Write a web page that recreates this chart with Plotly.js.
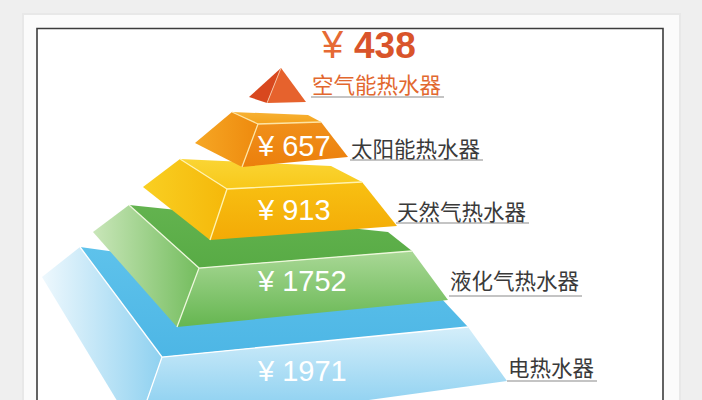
<!DOCTYPE html>
<html><head><meta charset="utf-8">
<script src="https://cdn.plot.ly/plotly-3.0.1.min.js"></script>
<style>html,body{margin:0;padding:0;background:#efefef;}#chart{width:702px;height:400px;}</style>
</head><body><div id="chart"></div>
<script>
// ---------- data ----------
const heaterTypes = ['空气能热水器', '太阳能热水器', '天然气热水器', '液化气热水器', '电热水器'];
const prices = [438, 657, 913, 1752, 1971];
const currencySign = '¥';

// ---------- layout geometry (illustration, pixel space) ----------
const apexGeom = {top: [281, 68], left: [249, 97], mid: [267, 103], right: [306, 102]};
const layerGeom = [
  null,
  {TBL: [232, 112], TBR: [308, 115], TFR: [321, 122], TFL: [258, 124], QBL: [195, 143], QFL: [242, 167], QFR: [348, 157]},
  {TBL: [180, 159], TBR: [331, 166], TFR: [362, 182], TFL: [227, 189], QBL: [143, 187], QFL: [210, 240], QFR: [397, 226]},
  {TBL: [129, 205], TBR: [388, 232], TFR: [412, 251], TFL: [199, 268], QBL: [93, 232], QFL: [177, 327], QFR: [448, 300]},
  {TBL: [80, 247], TBR: [440, 297], TFR: [468, 327], TFL: [162, 357], QBL: [42, 277], QFL: [136, 432], QFR: [507, 381]}
];
const layerStyle = [
  {left: '#d8481e', front: '#e6622d', edge: '#f6c0a0'},
  {top: ['#f7b234', '#f4a21c'], left: ['#f6a724', '#ee8a0e'], front: ['#f0901a', '#ec7f0c'], edge: '#fde4a4'},
  {top: ['#fad534', '#f8c81a'], left: ['#f9cf22', '#f5b80a'], front: ['#f8c012', '#f3aa06'], edge: '#fff3b0'},
  {top: ['#63b34f', '#58ab45'], left: ['#c9e6b9', '#74bd5e'], front: ['#a9d896', '#65b650'], edge: '#eef8dc'},
  {top: ['#5ec2eb', '#4db6e5'], left: ['#eef8fd', '#8fd1f0'], front: ['#d4eefa', '#79c8ee'], edge: '#ffffff'}
];
const nameX = [312, 351, 397, 450, 508];
const nameY = [83, 147, 210, 279, 366];
const underlineY = [97, 160, 223, 296, 381];
const nameFontSize = 21.5;
const valueX = 257;
const valueY = [null, 146, 210, 281, 371];

// ---------- build traces ----------
const traces = [];
function face(pts, colors, dir) {
  const xs = pts.map(p => p[0]), ys = pts.map(p => p[1]);
  const t = {x: xs, y: ys, mode: 'lines', fill: 'toself', line: {width: 0}, hoverinfo: 'skip', showlegend: false};
  if (Array.isArray(colors)) {
    const arr = dir === 'h' ? xs : ys;
    t.fillgradient = {type: dir === 'h' ? 'horizontal' : 'vertical',
      colorscale: [[0, colors[0]], [1, colors[1]]],
      start: Math.min(...arr), stop: Math.max(...arr)};
  } else {
    t.fillcolor = colors;
  }
  return t;
}
function edge(pts, color, w) {
  return {x: pts.map(p => p ? p[0] : null), y: pts.map(p => p ? p[1] : null), mode: 'lines',
    line: {color: color, width: w || 1.2}, hoverinfo: 'skip', showlegend: false, connectgaps: false};
}
for (let i = layerGeom.length - 1; i >= 1; i--) {
  const g = layerGeom[i], s = layerStyle[i];
  traces.push(face([g.TBL, g.TBR, g.TFR, g.TFL], s.top, 'v'));
  traces.push(face([g.TBL, g.TFL, g.QFL, g.QBL], s.left, 'h'));
  traces.push(face([g.TFL, g.TFR, g.QFR, g.QFL], s.front, 'v'));
  traces.push(edge([g.QFL, g.TFL, g.TFR, null, g.TBL, g.TFL], s.edge, 1.3));
}
traces.push(face([apexGeom.top, apexGeom.left, apexGeom.mid], layerStyle[0].left));
traces.push(face([apexGeom.top, apexGeom.mid, apexGeom.right], layerStyle[0].front));
traces.push(edge([apexGeom.top, apexGeom.mid], layerStyle[0].edge, 1));

// ---------- annotations ----------
const annotations = [];
heaterTypes.forEach((name, i) => {
  annotations.push({x: nameX[i], y: nameY[i], xref: 'x', yref: 'y', text: name, showarrow: false,
    xanchor: 'left', yanchor: 'middle', borderpad: 0, borderwidth: 0,
    font: {family: 'Noto Sans CJK SC, sans-serif', size: nameFontSize, color: i === 0 ? '#e2682f' : '#3a3a3a'}});
});
prices.forEach((p, i) => {
  if (i === 0) return;
  annotations.push({x: valueX, y: valueY[i], xref: 'x', yref: 'y', text: currencySign + ' ' + p, showarrow: false,
    xanchor: 'left', yanchor: 'middle', borderpad: 0, borderwidth: 0,
    font: {family: 'Liberation Sans, Arial, sans-serif', size: 29, color: '#ffffff'}});
});
// top price (apex)
annotations.push({x: 321, y: 45, xref: 'x', yref: 'y', text: currencySign, showarrow: false,
  xanchor: 'left', yanchor: 'middle', borderpad: 0, borderwidth: 0,
  font: {family: 'Liberation Sans, Arial, sans-serif', size: 38, color: '#e66a34'}});
annotations.push({x: 354, y: 45, xref: 'x', yref: 'y', text: '<b>' + prices[0] + '</b>', showarrow: false,
  xanchor: 'left', yanchor: 'middle', borderpad: 0, borderwidth: 0,
  font: {family: 'Liberation Sans, Arial, sans-serif', size: 37, color: '#d9542a'}});

// ---------- shapes ----------
const shapes = [
  {type: 'rect', xref: 'x', yref: 'y', x0: 22, x1: 681, y0: 13, y1: 440, fillcolor: '#e8e8e8', line: {width: 0}, layer: 'below'},
  {type: 'rect', xref: 'x', yref: 'y', x0: 24, x1: 679, y0: 15, y1: 440, fillcolor: '#fbfbfb', line: {width: 0}, layer: 'below'},
  {type: 'rect', xref: 'x', yref: 'y', x0: 37, x1: 663, y0: 28.5, y1: 440, fillcolor: '#ffffff', line: {color: '#3c3c3c', width: 1.6}, layer: 'below'}
];
heaterTypes.forEach((name, i) => {
  shapes.push({type: 'line', xref: 'x', yref: 'y', x0: nameX[i] - 1, x1: nameX[i] + name.length * nameFontSize + 3,
    y0: underlineY[i], y1: underlineY[i], line: {color: '#8a8a8a', width: 1.2}, layer: 'below'});
});

const layout = {
  width: 702, height: 400, margin: {l: 0, r: 0, t: 0, b: 0},
  paper_bgcolor: '#efefef', plot_bgcolor: 'rgba(0,0,0,0)',
  xaxis: {range: [0, 702], visible: false, fixedrange: true},
  yaxis: {range: [400, 0], visible: false, fixedrange: true},
  showlegend: false, shapes: shapes, annotations: annotations
};
Plotly.newPlot('chart', traces, layout, {staticPlot: true, displayModeBar: false});
</script></body></html>
